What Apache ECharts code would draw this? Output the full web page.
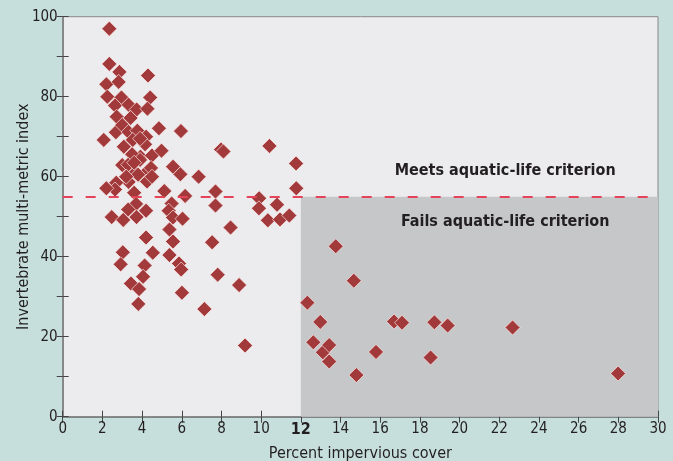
<!DOCTYPE html>
<html>
<head>
<meta charset="utf-8">
<script src="https://cdn.jsdelivr.net/npm/echarts@6/dist/echarts.min.js"></script>
<style>
html,body{margin:0;padding:0;background:#c6dfdd;}
#chart{width:673px;height:461px;}
</style>
</head>
<body>
<div id="chart"></div>
<script>
// Percent impervious cover (x) and invertebrate multi-metric index (y)
var imperviousCover = [2.35,2.35,2.2,2.86,2.82,2.25,2.96,2.64,2.72,3.32,3.73,4.3,4.41,4.27,2.68,2.07,3.0,3.32,3.76,3.42,4.2,3.53,3.08,4.15,3.92,4.5,3.5,4.85,4.98,5.96,3.0,3.3,3.9,4.25,3.66,4.25,3.32,2.7,2.64,2.2,3.6,3.7,3.3,4.2,2.47,3.05,3.72,5.56,5.93,6.85,5.12,6.17,5.49,5.34,5.56,6.04,5.38,5.56,4.2,4.54,5.38,3.03,2.92,4.13,5.86,5.97,4.05,3.44,3.85,3.81,6.01,7.14,7.98,8.1,7.7,7.7,8.46,7.53,7.81,8.89,9.19,9.9,9.89,10.42,10.34,10.8,10.95,11.42,11.76,11.77,12.33,12.98,12.63,13.11,13.43,13.43,13.76,14.67,14.8,15.79,16.7,17.1,18.54,18.73,19.4,22.67,27.99,4.45,3.6,3.8,3.2,4.5,3.9];
var invertebrateIndex = [97,88.2,83.1,86.2,83.7,80,79.8,77.8,75,78,76.8,85.3,79.8,77,71.1,69.2,72.9,71.2,71.5,74.7,70,69.2,67.5,68.1,65,65.3,65.6,72.1,66.5,71.4,62.9,63,64.2,61.3,61,58.8,58.7,58.5,56.8,57.1,56,53.2,51.8,51.5,49.9,49.2,49.9,62.5,60.6,60,56.4,55.2,53.3,51.5,49.8,49.5,46.8,43.8,44.8,41,40.4,41.1,38.1,37.8,38.3,36.8,35,33.3,31.9,28.2,31,26.9,66.8,66.3,56.3,52.8,47.3,43.6,35.5,32.9,17.8,54.6,52.1,67.7,49.1,53,49.3,50.3,63.3,57.1,28.5,23.7,18.6,16.1,17.9,13.8,42.6,34,10.4,16.2,23.8,23.5,14.8,23.6,22.8,22.3,10.8,62.2,63.5,60.5,60,60,69.5];
var criterion = 55;
var criterionCover = 12;
var xTicks = [0,2,4,6,8,10,12,14,16,18,20,22,24,26,28,30];
var yTicks = [0,20,40,60,80,100];
var annotationText = ['Meets aquatic-life criterion','Fails aquatic-life criterion'];
var annotationX = [22.3, 22.3];
var annotationY = [61.4, 48.6];

var FONT = "'Liberation Sans Narrow','DejaVu Sans Condensed','Roboto Condensed','Arial Narrow',sans-serif";
var points = imperviousCover.map(function(x,i){return [x, invertebrateIndex[i]];});
var annotations = annotationText.map(function(t,i){return [annotationX[i], annotationY[i], t];});

var chart = echarts.init(document.getElementById('chart'));
var axisBase = {
  type:'value', min:0, max:30, interval:2,
  axisLine:{show:true, lineStyle:{color:'#6b6b6b', width:1.5}},
  axisTick:{show:true, inside:true, length:6, lineStyle:{color:'#444', width:1}},
  splitLine:{show:false}
};
chart.setOption({
  backgroundColor:'#c6dfdd',
  animation:false,
  grid:{left:62.7, right:15, top:16.7, bottom:44.3, outerBoundsMode:'none', containLabel:false,
    show:true, backgroundColor:'#ececee', borderColor:'#888', borderWidth:1},
  xAxis:[
    Object.assign({}, axisBase, {
      position:'bottom',
      name:'Percent impervious cover', nameLocation:'middle', nameGap:29, nameMoveOverlap:false,
      nameTextStyle:{fontFamily:FONT, fontSize:16, color:'#231f20'},
      axisLabel:{show:true, margin:5, fontFamily:FONT, fontSize:15, color:'#231f20',
        formatter:function(v){ return xTicks.indexOf(v) < 0 ? '' : (v===criterionCover ? '{b|'+v+'}' : String(v)); },
        rich:{b:{fontFamily:FONT, fontSize:16, fontWeight:'bold', color:'#231f20'}}}
    }),
    Object.assign({}, axisBase, {position:'top', axisLabel:{show:false}, axisLine:{show:true, lineStyle:{color:'#888', width:1}}})
  ],
  yAxis:[
    Object.assign({}, axisBase, {
      min:0, max:100, interval:10, position:'left',
      name:'Invertebrate multi-metric index', nameLocation:'middle', nameGap:31, nameMoveOverlap:false,
      nameTextStyle:{fontFamily:FONT, fontSize:16, color:'#231f20'},
      axisLabel:{show:true, margin:5, fontFamily:FONT, fontSize:15, color:'#231f20',
        formatter:function(v){ return yTicks.indexOf(v) < 0 ? '' : String(v); }}
    }),
    Object.assign({}, axisBase, {min:0, max:100, interval:10, position:'right', axisLabel:{show:false}, axisLine:{show:true, lineStyle:{color:'#888', width:1}}})
  ],
  series:[
    {
      type:'scatter', data:[], z:1, silent:true,
      markArea:{silent:true, itemStyle:{color:'#c6c7c9', opacity:1},
        data:[[{coord:[criterionCover,0]},{coord:[30,criterion]}]]},
      markLine:{silent:true, symbol:['none','none'], label:{show:false},
        lineStyle:{color:'#e4435a', type:[10,13], width:2, opacity:1},
        data:[[{coord:[0,criterion]},{coord:[30,criterion]}]]}
    },
    {
      type:'scatter', data:points, z:3, symbol:'diamond', symbolSize:[15,15],
      itemStyle:{color:'#a23a3b', opacity:1, borderColor:'rgba(255,235,235,0.85)', borderWidth:0.8}
    },
    {
      type:'scatter', data:annotations, z:4, symbolSize:0, silent:true,
      itemStyle:{opacity:1},
      label:{show:true, position:'inside', formatter:function(p){return p.data[2];},
        fontFamily:FONT, fontSize:16, fontWeight:'bold', color:'#231f20'}
    }
  ]
});
</script>
</body>
</html>
